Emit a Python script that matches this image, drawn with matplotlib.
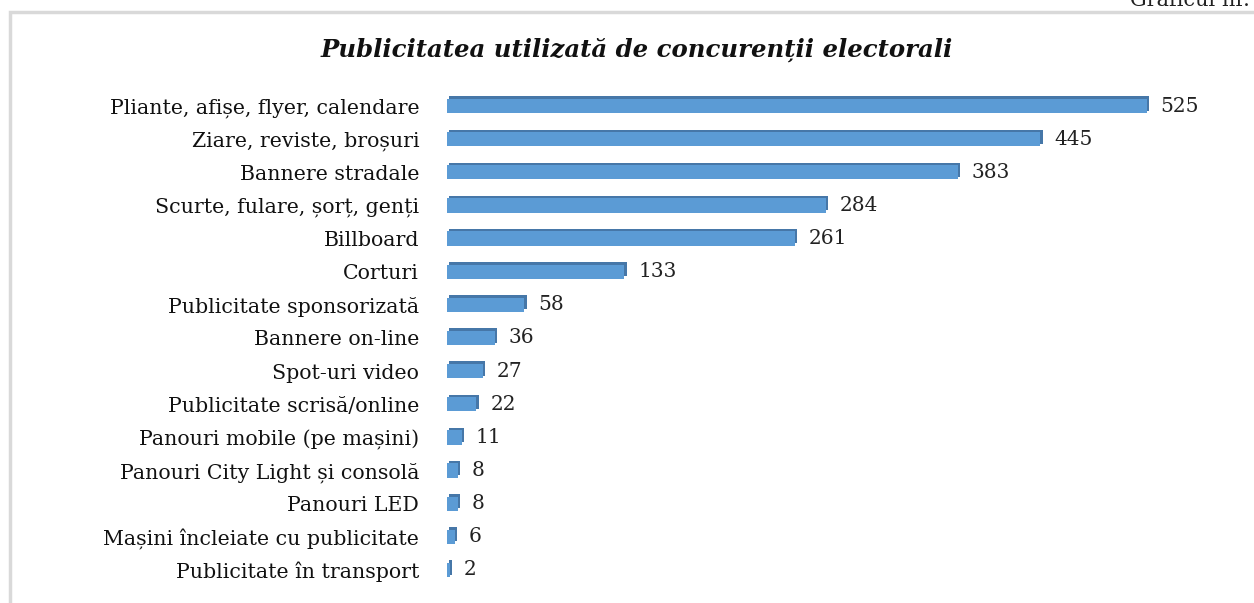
import matplotlib
matplotlib.use("Agg")
import matplotlib.pyplot as plt
import matplotlib.transforms as mtransforms
from matplotlib.patches import Rectangle

categories = [
    "Pliante, afișe, flyer, calendare",
    "Ziare, reviste, broșuri",
    "Bannere stradale",
    "Scurte, fulare, șorț, genți",
    "Billboard",
    "Corturi",
    "Publicitate sponsorizată",
    "Bannere on-line",
    "Spot-uri video",
    "Publicitate scrisă/online",
    "Panouri mobile (pe mașini)",
    "Panouri City Light și consolă",
    "Panouri LED",
    "Mașini încleiate cu publicitate",
    "Publicitate în transport",
]
values = [525, 445, 383, 284, 261, 133, 58, 36, 27, 22, 11, 8, 8, 6, 2]
title = "Publicitatea utilizată de concurenții electorali"

W, H = 1254, 603
fig = plt.figure(figsize=(W / 100, H / 100), dpi=100)
fig.patch.set_facecolor("white")

# chart frame (runs off the right/bottom edges)
fig.patches.append(Rectangle((10 / W, -0.05), 1.1, 1 - 12 / H + 0.05,
                             transform=fig.transFigure, fill=False,
                             edgecolor="#d9d9d9", linewidth=2.5))

fig.text(1250 / W, 1 - 6 / H, "Graficul nr.", ha="right", va="baseline",
         fontsize=15, family="DejaVu Serif", color="#222222")

top_px, left_px = 73, 447
ax = fig.add_axes([left_px / W, 0, 1 - left_px / W, (H - top_px) / H])
ypos = list(range(len(categories)))
row_px = 33.14
ax.set_ylim((H - 106) / row_px, (top_px - 106) / row_px)
ax.set_xlim(0, (W - left_px) / 1.333)

# 3D look: darker slab shifted up/right behind the front face
shift = mtransforms.offset_copy(ax.transData, fig=fig, x=2.5, y=2.5, units="dots")
ax.barh(ypos, values, height=0.43, color="#4677a8", transform=shift, zorder=2)
ax.barh(ypos, values, height=0.43, color="#5b9bd5", zorder=3)

for y, v in zip(ypos, values):
    ax.annotate(str(v), (v, y), xytext=(10, 0), textcoords="offset points",
                ha="left", va="center", fontsize=14.5, family="DejaVu Serif",
                color="#222222")

ax.set_yticks(ypos)
ax.set_yticklabels(categories, fontsize=14.8, family="DejaVu Serif", color="#111111")
ax.tick_params(axis="y", length=0, pad=20)
ax.set_xticks([])
for s in ax.spines.values():
    s.set_visible(False)

fig.text(637 / W, 1 - 50 / H, title, ha="center", va="center", fontsize=17.6,
         family="DejaVu Serif", style="italic", weight="bold", color="#111111")

fig.savefig("out.png", dpi=100)
